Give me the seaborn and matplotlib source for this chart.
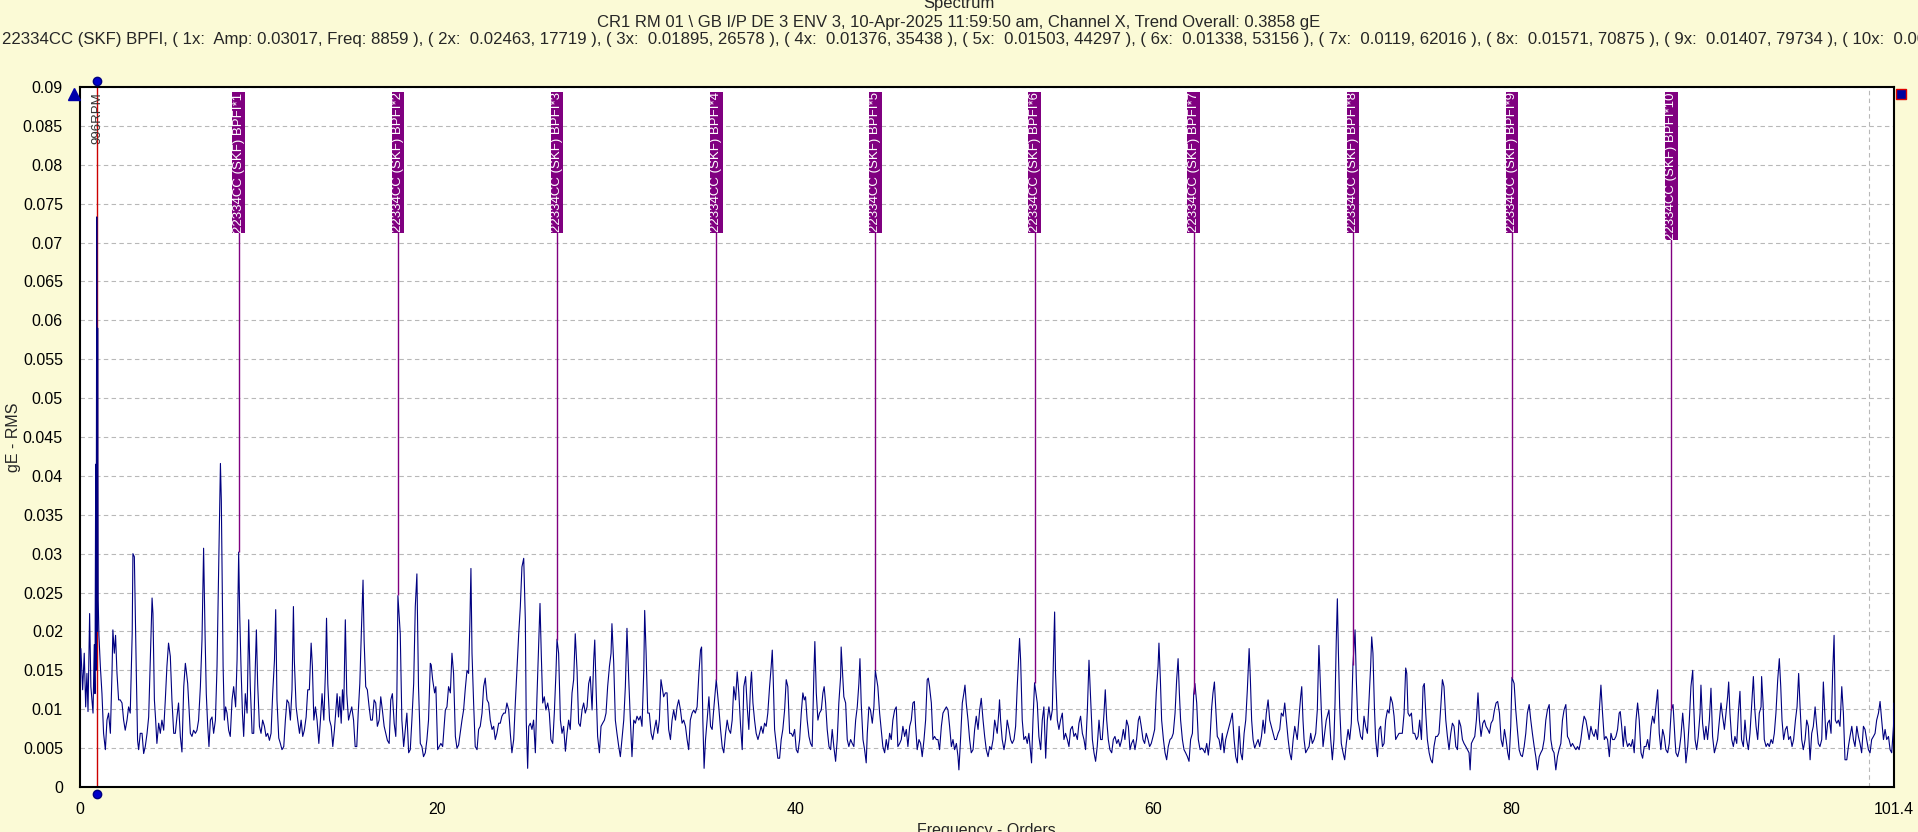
import numpy as np
import pandas as pd
import matplotlib
matplotlib.use("Agg")
from matplotlib import pyplot as plt
from matplotlib.ticker import FixedLocator, FuncFormatter
import seaborn as sns

# ---- data ----
rpm = 996
bpfi_name = "22334CC (SKF) BPFI"
bpfi_cpm = [8859, 17719, 26578, 35438, 44297, 53156, 62016, 70875, 79734, 88594]
bpfi_amp = [0.03017, 0.02463, 0.01895, 0.01376, 0.01503, 0.01338, 0.0119, 0.01571, 0.01407, 0.00986]
title_top = "Spectrum"
title_point = "CR1 RM 01 \\ GB I/P DE 3 ENV 3, 10-Apr-2025 11:59:50 am, Channel X, Trend Overall: 0.3858 gE"
x_tick_values = [0, 20, 40, 60, 80, 101.4]

orders_a = [
    0.00, 0.07, 0.17, 0.26, 0.34, 0.41, 0.47, 0.56, 0.63, 0.75,
    0.82, 0.86, 0.90, 0.92, 0.96, 0.98, 1.01, 1.04, 1.08, 1.16,
    1.25, 1.34, 1.44, 1.53, 1.62, 1.72, 1.81, 1.86, 1.94, 2.01,
    2.09, 2.18, 2.27, 2.37, 2.46, 2.55, 2.65, 2.74, 2.83, 2.94,
    2.98, 3.06, 3.17, 3.24, 3.30, 3.39, 3.49, 3.58, 3.67, 3.77,
    3.86, 3.95, 4.05, 4.10, 4.18, 4.25, 4.32, 4.42, 4.51, 4.60,
    4.70, 4.79, 4.88, 4.97, 5.07, 5.16, 5.26, 5.35, 5.44, 5.53,
    5.63, 5.72, 5.82, 5.91, 5.96, 6.04, 6.11, 6.19, 6.28, 6.37,
    6.47, 6.56, 6.65, 6.75, 6.84, 6.93, 7.01, 7.08, 7.16, 7.23,
    7.31, 7.40, 7.49, 7.59, 7.68, 7.77, 7.87, 7.92, 8.02, 8.09,
    8.16, 8.24, 8.33, 8.42, 8.52, 8.61, 8.72, 8.80, 8.89, 8.95,
    9.02, 9.10, 9.17, 9.26, 9.36, 9.45, 9.54, 9.64, 9.73, 9.82,
    9.88, 9.95, 10.05, 10.14, 10.23, 10.33, 10.42, 10.51, 10.61, 10.70,
    10.79, 10.89, 10.96, 11.03, 11.13, 11.22, 11.31, 11.41, 11.50, 11.59,
    11.69, 11.78, 11.87, 11.95, 12.00, 12.10, 12.19, 12.29, 12.38, 12.47,
    12.56, 12.66, 12.75, 12.84, 12.94, 13.01, 13.09, 13.18, 13.27, 13.37,
    13.46, 13.55, 13.65, 13.74, 13.80, 13.87, 13.97, 14.06, 14.15, 14.24,
    14.32, 14.39, 14.47, 14.54, 14.62, 14.69, 14.76, 14.85, 14.93, 15.03,
    15.12, 15.21, 15.31, 15.40, 15.49, 15.57, 15.66, 15.75, 15.84, 15.90,
    15.99, 16.08, 16.18, 16.27, 16.36, 16.46, 16.55, 16.64, 16.74, 16.83,
    16.92, 17.02, 17.11, 17.20, 17.30, 17.39, 17.48, 17.58, 17.67, 17.73,
]
amp_a = [
    .0120, .0178, .0125, .0172, .0103, .0146, .0097, .0223, .0129, .0095,
    .0183, .0120, .0415, .0150, .0733, .0200, .0590, .0240, .0195, .0155,
    .0120, .0069, .0048, .0086, .0095, .0069, .0146, .0202, .0172, .0195,
    .0146, .0112, .0112, .0108, .0086, .0073, .0086, .0103, .0095, .0198,
    .0300, .0296, .0146, .0060, .0048, .0069, .0069, .0043, .0052, .0069,
    .0090, .0163, .0243, .0223, .0112, .0086, .0056, .0082, .0069, .0086,
    .0073, .0112, .0155, .0185, .0168, .0112, .0069, .0069, .0090, .0108,
    .0065, .0045, .0129, .0159, .0150, .0133, .0103, .0069, .0065, .0073,
    .0069, .0073, .0086, .0129, .0189, .0307, .0198, .0120, .0078, .0052,
    .0086, .0090, .0069, .0086, .0155, .0275, .0416, .0369, .0155, .0086,
    .0103, .0095, .0073, .0065, .0112, .0129, .0103, .0163, .0302, .0219,
    .0155, .0095, .0065, .0120, .0095, .0215, .0129, .0069, .0069, .0155,
    .0202, .0133, .0078, .0069, .0086, .0078, .0065, .0069, .0060, .0069,
    .0120, .0163, .0228, .0112, .0063, .0056, .0048, .0052, .0086, .0112,
    .0108, .0086, .0125, .0232, .0163, .0103, .0086, .0069, .0086, .0065,
    .0073, .0090, .0125, .0125, .0185, .0155, .0086, .0103, .0086, .0056,
    .0086, .0120, .0086, .0150, .0217, .0133, .0086, .0078, .0052, .0073,
    .0099, .0120, .0090, .0116, .0082, .0125, .0099, .0215, .0120, .0086,
    .0095, .0103, .0086, .0052, .0052, .0095, .0133, .0202, .0266, .0189,
    .0129, .0125, .0103, .0086, .0086, .0112, .0108, .0078, .0086, .0116,
    .0099, .0078, .0069, .0060, .0056, .0112, .0120, .0082, .0065, .0116,
]

orders_b = [
    17.79, 17.92, 18.01, 18.11, 18.20, 18.29, 18.39, 18.48, 18.57, 18.67,
    18.76, 18.85, 18.94, 19.04, 19.13, 19.22, 19.32, 19.41, 19.50, 19.60,
    19.65, 19.73, 19.84, 19.91, 20.01, 20.10, 20.19, 20.29, 20.44, 20.53,
    20.62, 20.72, 20.81, 20.90, 21.00, 21.09, 21.18, 21.27, 21.37, 21.46,
    21.55, 21.65, 21.74, 21.81, 21.87, 21.93, 22.02, 22.11, 22.21, 22.30,
    22.39, 22.49, 22.58, 22.67, 22.77, 22.86, 22.95, 23.05, 23.14, 23.23,
    23.32, 23.42, 23.51, 23.60, 23.70, 23.79, 23.88, 23.98, 24.07, 24.16,
    24.26, 24.35, 24.44, 24.54, 24.63, 24.72, 24.82, 24.91, 24.96, 25.04,
    25.10, 25.19, 25.28, 25.37, 25.47, 25.56, 25.65, 25.73, 25.80, 25.88,
    25.97, 26.06, 26.16, 26.25, 26.34, 26.44, 26.53, 26.62, 26.68, 26.77,
    26.87, 26.96, 27.05, 27.15, 27.24, 27.33, 27.42, 27.52, 27.61, 27.70,
    27.80, 27.89, 27.98, 28.08, 28.17, 28.26, 28.36, 28.45, 28.54, 28.64,
    28.73, 28.79, 28.86, 28.95, 29.05, 29.14, 29.23, 29.33, 29.42, 29.51,
    29.61, 29.70, 29.75, 29.85, 29.94, 30.03, 30.13, 30.22, 30.31, 30.41,
    30.50, 30.59, 30.69, 30.78, 30.87, 30.97, 31.06, 31.15, 31.25, 31.34,
    31.43, 31.53, 31.58, 31.66, 31.75, 31.84, 31.94, 32.03, 32.12, 32.22,
    32.31, 32.40, 32.49, 32.55, 32.64, 32.74, 32.83, 32.92, 33.02, 33.11,
    33.20, 33.30, 33.39, 33.48, 33.58, 33.67, 33.76, 33.86, 33.95, 34.04,
    34.13, 34.23, 34.32, 34.41,
]
amp_b = [
    .0246, .0197, .0086, .0052, .0074, .0095, .0044, .0048, .0086, .0133,
    .0232, .0274, .0129, .0056, .0052, .0039, .0044, .0061, .0086, .0159,
    .0157, .0138, .0121, .0129, .0048, .0052, .0056, .0052, .0099, .0103,
    .0129, .0121, .0172, .0146, .0065, .0050, .0054, .0069, .0086, .0099,
    .0125, .0150, .0146, .0210, .0281, .0172, .0108, .0052, .0048, .0074,
    .0078, .0095, .0129, .0140, .0112, .0108, .0086, .0074, .0078, .0061,
    .0069, .0082, .0082, .0091, .0095, .0095, .0108, .0099, .0069, .0044,
    .0061, .0108, .0150, .0197, .0232, .0283, .0294, .0215, .0086, .0024,
    .0078, .0082, .0074, .0086, .0044, .0116, .0180, .0236, .0172, .0108,
    .0116, .0099, .0108, .0095, .0061, .0056, .0095, .0146, .0190, .0172,
    .0086, .0069, .0078, .0046, .0069, .0086, .0074, .0121, .0138, .0197,
    .0150, .0082, .0078, .0099, .0108, .0095, .0103, .0133, .0142, .0099,
    .0163, .0189, .0129, .0065, .0044, .0078, .0082, .0086, .0095, .0129,
    .0155, .0172, .0210, .0159, .0086, .0069, .0052, .0039, .0061, .0086,
    .0129, .0204, .0138, .0086, .0039, .0086, .0082, .0091, .0086, .0091,
    .0078, .0150, .0227, .0172, .0095, .0095, .0069, .0061, .0074, .0086,
    .0069, .0086, .0138, .0129, .0116, .0121, .0121, .0074, .0061, .0086,
    .0099, .0086, .0103, .0112, .0099, .0082, .0086, .0078, .0061, .0048,
    .0086, .0095, .0099, .0095,
]

orders_c = [
    34.51, 34.61, 34.70, 34.76, 34.83, 34.90, 34.98, 35.07, 35.17, 35.26,
    35.35, 35.45, 35.58, 35.72, 35.82, 35.91, 36.00, 36.10, 36.19, 36.28,
    36.38, 36.47, 36.56, 36.66, 36.75, 36.84, 36.94, 37.03, 37.12, 37.22,
    37.31, 37.40, 37.50, 37.55, 37.63, 37.72, 37.81, 37.91, 38.00, 38.09,
    38.19, 38.28, 38.37, 38.46, 38.56, 38.65, 38.71, 38.76, 38.84, 38.93,
    39.02, 39.12, 39.21, 39.30, 39.40, 39.49, 39.58, 39.68, 39.77, 39.86,
    39.96, 40.05, 40.14, 40.24, 40.33, 40.42, 40.50, 40.57, 40.66, 40.76,
    40.85, 40.94, 41.04, 41.09, 41.17, 41.26, 41.35, 41.45, 41.54, 41.61,
    41.69, 41.78, 41.88, 41.97, 42.06, 42.15, 42.25, 42.34, 42.43, 42.53,
    42.56, 42.64, 42.71, 42.81, 42.90, 42.99, 43.09, 43.18, 43.27, 43.37,
    43.46, 43.55, 43.61, 43.68, 43.78, 43.87, 43.96, 44.02, 44.11, 44.20,
    44.30, 44.39, 44.47, 44.61, 44.71, 44.80, 44.89, 44.99, 45.08, 45.17,
    45.27, 45.36, 45.45, 45.55, 45.64, 45.73, 45.83, 45.92, 46.01, 46.11,
    46.20, 46.29, 46.39, 46.48, 46.57, 46.65, 46.72, 46.81, 46.91, 47.00,
    47.09, 47.19, 47.28, 47.37, 47.43, 47.50, 47.60, 47.69, 47.78, 47.88,
    47.97, 48.06, 48.16, 48.25, 48.34, 48.44, 48.53, 48.62, 48.72, 48.81,
    48.90, 49.00, 49.09, 49.14, 49.24, 49.33, 49.42, 49.48, 49.55, 49.65,
    49.74, 49.83, 49.93, 50.02, 50.11, 50.21, 50.30, 50.39, 50.49, 50.58,
    50.67, 50.77, 50.86, 50.95, 51.05, 51.14,
]
amp_c = [
    .0103, .0146, .0176, .0180, .0086, .0024, .0061, .0086, .0116, .0078,
    .0074, .0103, .0138, .0103, .0074, .0052, .0044, .0069, .0086, .0074,
    .0069, .0086, .0129, .0112, .0148, .0121, .0078, .0048, .0129, .0142,
    .0103, .0074, .0133, .0148, .0108, .0086, .0069, .0061, .0069, .0078,
    .0069, .0082, .0078, .0095, .0129, .0155, .0176, .0142, .0074, .0056,
    .0037, .0037, .0061, .0074, .0099, .0138, .0129, .0069, .0069, .0065,
    .0074, .0048, .0044, .0061, .0095, .0121, .0112, .0116, .0086, .0065,
    .0056, .0052, .0150, .0187, .0121, .0086, .0095, .0099, .0121, .0129,
    .0108, .0074, .0052, .0048, .0074, .0052, .0033, .0061, .0108, .0142,
    .0180, .0146, .0116, .0108, .0061, .0052, .0061, .0056, .0052, .0086,
    .0103, .0133, .0165, .0108, .0061, .0048, .0031, .0069, .0103, .0099,
    .0082, .0103, .0150, .0129, .0095, .0074, .0052, .0044, .0061, .0048,
    .0069, .0061, .0086, .0099, .0103, .0052, .0056, .0061, .0078, .0065,
    .0074, .0052, .0078, .0086, .0108, .0110, .0078, .0048, .0061, .0056,
    .0039, .0061, .0086, .0138, .0140, .0129, .0108, .0061, .0065, .0061,
    .0061, .0048, .0078, .0095, .0099, .0103, .0099, .0078, .0052, .0061,
    .0048, .0056, .0039, .0022, .0065, .0108, .0121, .0131, .0108, .0086,
    .0061, .0044, .0048, .0074, .0091, .0074, .0099, .0114, .0086, .0065,
    .0048, .0039, .0052, .0048, .0061, .0086,
]

orders_d = [
    51.28, 51.38, 51.41, 51.47, 51.56, 51.66, 51.75, 51.84, 51.94, 52.03,
    52.12, 52.22, 52.31, 52.40, 52.49, 52.53, 52.59, 52.68, 52.77, 52.87,
    52.96, 53.05, 53.15, 53.20, 53.28, 53.37, 53.52, 53.61, 53.71, 53.80,
    53.89, 53.99, 54.08, 54.17, 54.27, 54.36, 54.43, 54.49, 54.54, 54.64,
    54.73, 54.82, 54.92, 55.01, 55.10, 55.20, 55.29, 55.38, 55.48, 55.57,
    55.66, 55.76, 55.85, 55.94, 56.04, 56.13, 56.22, 56.32, 56.41, 56.50,
    56.60, 56.69, 56.78, 56.87, 56.97, 57.06, 57.15, 57.25, 57.32, 57.40,
    57.49, 57.58, 57.68, 57.77, 57.86, 57.96, 58.05, 58.14, 58.24, 58.33,
    58.42, 58.51, 58.61, 58.70, 58.79, 58.89, 58.98, 59.07, 59.17, 59.24,
    59.33, 59.43, 59.52, 59.61, 59.71, 59.80, 59.89, 59.99, 60.08, 60.17,
    60.27, 60.32, 60.40, 60.47, 60.57, 60.66, 60.75, 60.84, 60.94, 61.03,
    61.12, 61.22, 61.31, 61.39, 61.46, 61.53, 61.63, 61.72, 61.81, 61.91,
    62.00, 62.09, 62.19, 62.26, 62.33, 62.43, 62.52, 62.62, 62.71, 62.80,
    62.89, 62.99, 63.08, 63.17, 63.27, 63.34, 63.42, 63.49, 63.58, 63.68,
    63.77, 63.86, 63.96, 64.05, 64.14, 64.24, 64.33, 64.42, 64.52, 64.61,
    64.70, 64.80, 64.89, 64.98, 65.08, 65.17, 65.26, 65.36, 65.43, 65.50,
    65.58, 65.67, 65.77, 65.86, 65.95, 66.05, 66.14, 66.23, 66.32, 66.42,
    66.51, 66.60, 66.70, 66.79, 66.88, 66.98, 67.07, 67.16, 67.26, 67.35,
    67.44, 67.54, 67.63, 67.72, 67.82, 67.91,
]
amp_d = [
    .0069, .0099, .0112, .0086, .0061, .0048, .0061, .0086, .0074, .0061,
    .0056, .0061, .0078, .0129, .0172, .0191, .0163, .0086, .0061, .0065,
    .0056, .0069, .0044, .0031, .0086, .0134, .0108, .0065, .0048, .0086,
    .0103, .0037, .0086, .0103, .0086, .0099, .0172, .0225, .0146, .0086,
    .0074, .0086, .0095, .0061, .0069, .0061, .0052, .0074, .0078, .0065,
    .0069, .0061, .0082, .0091, .0069, .0061, .0048, .0099, .0163, .0116,
    .0061, .0044, .0033, .0052, .0086, .0061, .0061, .0095, .0125, .0086,
    .0061, .0048, .0044, .0061, .0065, .0056, .0061, .0052, .0061, .0074,
    .0061, .0086, .0078, .0048, .0056, .0061, .0048, .0061, .0086, .0091,
    .0078, .0061, .0056, .0069, .0061, .0052, .0056, .0065, .0074, .0121,
    .0155, .0185, .0138, .0086, .0061, .0044, .0035, .0052, .0061, .0063,
    .0069, .0095, .0138, .0165, .0121, .0086, .0061, .0048, .0044, .0039,
    .0033, .0061, .0069, .0119, .0133, .0108, .0061, .0048, .0050, .0048,
    .0044, .0056, .0041, .0061, .0103, .0121, .0135, .0103, .0065, .0061,
    .0048, .0069, .0044, .0061, .0069, .0078, .0086, .0095, .0061, .0039,
    .0031, .0078, .0044, .0035, .0069, .0086, .0125, .0178, .0138, .0086,
    .0061, .0050, .0056, .0061, .0052, .0065, .0086, .0069, .0095, .0112,
    .0086, .0078, .0069, .0061, .0061, .0069, .0074, .0095, .0091, .0108,
    .0086, .0061, .0044, .0035, .0061, .0078,
]

orders_e = [
    68.05, 68.15, 68.24, 68.30, 68.37, 68.43, 68.52, 68.61, 68.71, 68.80,
    68.89, 68.99, 69.08, 69.17, 69.26, 69.32, 69.40, 69.49, 69.58, 69.67,
    69.77, 69.82, 69.92, 70.01, 70.10, 70.16, 70.23, 70.29, 70.35, 70.42,
    70.51, 70.61, 70.70, 70.79, 70.89, 70.98, 71.07, 71.16, 71.28, 71.35,
    71.43, 71.50, 71.59, 71.69, 71.78, 71.87, 71.97, 72.06, 72.15, 72.21,
    72.28, 72.36, 72.43, 72.53, 72.62, 72.71, 72.81, 72.90, 72.99, 73.09,
    73.18, 73.27, 73.37, 73.46, 73.55, 73.64, 73.74, 73.83, 73.92, 74.02,
    74.11, 74.17, 74.24, 74.33, 74.43, 74.52, 74.61, 74.71, 74.80, 74.89,
    74.99, 75.08, 75.15, 75.23, 75.32, 75.42, 75.51, 75.60, 75.69, 75.79,
    75.88, 75.97, 76.07, 76.16, 76.25, 76.35, 76.44, 76.53, 76.63, 76.72,
    76.81, 76.91, 77.00, 77.09, 77.19, 77.28, 77.37, 77.47, 77.56, 77.65,
    77.71, 77.78, 77.88, 77.97, 78.06, 78.15, 78.23, 78.32, 78.42, 78.51,
    78.60, 78.70, 78.79, 78.88, 78.98, 79.07, 79.16, 79.25, 79.35, 79.44,
    79.53, 79.63, 79.72, 79.81, 79.89, 79.98, 80.05, 80.17, 80.26, 80.35,
    80.45, 80.54, 80.63, 80.73, 80.82, 80.91, 81.01, 81.10, 81.19, 81.29,
    81.38, 81.47, 81.57, 81.66, 81.75, 81.85, 81.94, 82.03, 82.13, 82.22,
    82.31, 82.40, 82.50, 82.59, 82.68, 82.78, 82.87, 82.96, 83.06, 83.15,
    83.24, 83.34, 83.43, 83.52, 83.62, 83.71, 83.80, 83.90, 83.99, 84.08,
    84.18, 84.27, 84.36, 84.46, 84.55, 84.64, 84.73,
]
amp_e = [
    .0061, .0091, .0116, .0129, .0086, .0061, .0044, .0048, .0052, .0069,
    .0056, .0061, .0069, .0099, .0182, .0146, .0095, .0052, .0069, .0086,
    .0095, .0099, .0061, .0035, .0061, .0108, .0189, .0242, .0172, .0103,
    .0056, .0044, .0035, .0056, .0074, .0061, .0082, .0157, .0202, .0138,
    .0086, .0078, .0065, .0061, .0091, .0078, .0069, .0112, .0155, .0193,
    .0172, .0103, .0061, .0039, .0074, .0078, .0052, .0056, .0086, .0099,
    .0095, .0116, .0108, .0091, .0061, .0065, .0069, .0069, .0069, .0095,
    .0153, .0146, .0095, .0091, .0095, .0069, .0069, .0061, .0065, .0086,
    .0061, .0129, .0133, .0095, .0061, .0044, .0035, .0031, .0052, .0065,
    .0065, .0069, .0103, .0138, .0129, .0086, .0065, .0048, .0069, .0082,
    .0078, .0052, .0048, .0086, .0078, .0061, .0056, .0052, .0048, .0044,
    .0022, .0056, .0061, .0065, .0086, .0121, .0086, .0065, .0082, .0086,
    .0078, .0074, .0069, .0082, .0086, .0099, .0108, .0110, .0095, .0061,
    .0052, .0074, .0061, .0044, .0035, .0078, .0141, .0133, .0099, .0074,
    .0048, .0041, .0039, .0052, .0069, .0095, .0106, .0086, .0069, .0052,
    .0039, .0022, .0039, .0044, .0048, .0061, .0086, .0099, .0106, .0061,
    .0048, .0044, .0022, .0039, .0048, .0056, .0086, .0099, .0106, .0065,
    .0061, .0052, .0056, .0052, .0048, .0052, .0048, .0061, .0078, .0091,
    .0086, .0074, .0061, .0078, .0069, .0065, .0074,
]

orders_f = [
    84.83, 84.93, 85.02, 85.11, 85.21, 85.30, 85.39, 85.49, 85.58, 85.67,
    85.77, 85.86, 85.95, 86.04, 86.10, 86.18, 86.27, 86.36, 86.42, 86.51,
    86.60, 86.70, 86.79, 86.88, 86.98, 87.07, 87.16, 87.26, 87.35, 87.44,
    87.54, 87.63, 87.72, 87.82, 87.91, 88.00, 88.09, 88.19, 88.28, 88.37,
    88.47, 88.56, 88.65, 88.75, 88.84, 88.95, 89.05, 89.16, 89.21, 89.31,
    89.40, 89.49, 89.59, 89.68, 89.77, 89.87, 89.96, 90.05, 90.15, 90.20,
    90.28, 90.37, 90.46, 90.56, 90.61, 90.70, 90.80, 90.89, 90.98, 91.08,
    91.17, 91.26, 91.36, 91.45, 91.54, 91.64, 91.73, 91.82, 91.92, 92.01,
    92.10, 92.16, 92.23, 92.33, 92.42, 92.51, 92.61, 92.70, 92.79, 92.88,
    92.98, 93.07, 93.16, 93.26, 93.35, 93.44, 93.54, 93.61, 93.69, 93.78,
    93.87, 93.97, 94.00, 94.08, 94.15, 94.25, 94.34, 94.43, 94.53, 94.62,
    94.71, 94.80, 94.90, 94.99, 95.07, 95.14, 95.23, 95.33, 95.42, 95.51,
    95.61, 95.70, 95.79, 95.89, 95.98, 96.07, 96.15, 96.24, 96.33, 96.43,
    96.52, 96.61, 96.71, 96.80, 96.89, 96.99, 97.08, 97.17, 97.26, 97.36,
    97.45, 97.53, 97.60, 97.69, 97.79, 97.88, 97.97, 98.05, 98.12, 98.20,
    98.29, 98.38, 98.48, 98.57, 98.66, 98.76, 98.85, 98.94, 99.04, 99.13,
    99.22, 99.32, 99.41, 99.50, 99.59, 99.69, 99.78, 99.87, 99.97, 100.06,
    100.15, 100.25, 100.34, 100.43, 100.53, 100.62, 100.71, 100.81, 100.90, 100.99,
    101.09, 101.18, 101.27, 101.37, 101.40,
]
amp_f = [
    .0061, .0099, .0131, .0095, .0061, .0065, .0061, .0039, .0069, .0061,
    .0061, .0065, .0074, .0095, .0097, .0078, .0052, .0078, .0061, .0052,
    .0056, .0052, .0061, .0044, .0086, .0108, .0086, .0044, .0037, .0052,
    .0052, .0061, .0048, .0078, .0091, .0082, .0103, .0125, .0069, .0048,
    .0074, .0065, .0048, .0044, .0056, .0099, .0106, .0061, .0044, .0039,
    .0048, .0065, .0095, .0069, .0031, .0052, .0086, .0129, .0150, .0108,
    .0061, .0048, .0065, .0095, .0131, .0082, .0061, .0078, .0061, .0086,
    .0127, .0065, .0044, .0052, .0061, .0086, .0108, .0091, .0074, .0095,
    .0116, .0135, .0095, .0061, .0052, .0065, .0056, .0095, .0123, .0061,
    .0052, .0086, .0061, .0048, .0069, .0103, .0142, .0103, .0078, .0061,
    .0095, .0103, .0142, .0108, .0061, .0052, .0056, .0052, .0061, .0056,
    .0069, .0095, .0138, .0165, .0129, .0086, .0061, .0074, .0078, .0061,
    .0065, .0052, .0061, .0086, .0103, .0146, .0103, .0061, .0048, .0061,
    .0086, .0078, .0035, .0069, .0078, .0103, .0078, .0056, .0052, .0061,
    .0135, .0095, .0061, .0082, .0086, .0069, .0146, .0195, .0086, .0082,
    .0086, .0078, .0129, .0095, .0035, .0035, .0052, .0065, .0078, .0061,
    .0052, .0078, .0065, .0056, .0044, .0078, .0074, .0061, .0048, .0044,
    .0061, .0065, .0069, .0086, .0095, .0110, .0086, .0061, .0074, .0061,
    .0065, .0048, .0044, .0078, .0108,
]

# ---- assemble ----
orders = orders_a + orders_b + orders_c + orders_d + orders_e + orders_f
amps = amp_a + amp_b + amp_c + amp_d + amp_e + amp_f
assert len(orders) == len(amps), (len(orders), len(amps))
df = pd.DataFrame({"order": orders, "amp": amps})

parts = ["( 1x:  Amp: %s, Freq: %d )" % (bpfi_amp[0], bpfi_cpm[0])]
for k in range(1, len(bpfi_cpm)):
    parts.append("( %dx:  %s, %d )" % (k + 1, bpfi_amp[k], bpfi_cpm[k]))
title_bpfi = bpfi_name + ", " + ", ".join(parts)

# ---- style ----
sns.set_style("white")
plt.rcParams["font.family"] = ["Liberation Sans", "DejaVu Sans"]
bg = "#FBFAD6"
navy = "#000080"
purple = "#800080"

fig = plt.figure(figsize=(19.18, 8.32), dpi=100, facecolor=bg)
ax = fig.add_axes([0.0415, 0.0541, 0.946, 0.8413])
ax.set_facecolor("white")

sns.lineplot(data=df, x="order", y="amp", ax=ax, color=navy, lw=0.8,
             estimator=None, sort=False, zorder=3)

ax.set_xlim(0, 101.4)
ax.set_ylim(0, 0.09)

# RPM cursor
ax.axvline(1.0, color="#CC0000", lw=1, zorder=2)
ax.text(1.0, 0.0893, "%dRPM" % rpm, rotation=90, ha="center", va="top",
        color="#333333", fontsize=9.5, zorder=5)
xt = ax.get_xaxis_transform()
ax.plot([1.0, 1.0], [1.009, -0.01], "o", ms=6, color="#0000CC",
        mec="#000080", transform=xt, clip_on=False, zorder=6)
ax.plot([-0.0033], [0.9907], "^", ms=8, color="#0000AA",
        transform=ax.transAxes, clip_on=False, zorder=6)
ax.plot([1.0039], [0.9907], "s", ms=6.5, color="#0000A0", mec="#DD0000",
        mew=1, transform=ax.transAxes, clip_on=False, zorder=6)

# BPFI harmonic cursors
for k, (cpm, a) in enumerate(zip(bpfi_cpm, bpfi_amp), start=1):
    o = cpm / rpm
    ax.vlines(o, a, 0.085, color=purple, lw=1, zorder=4)
    ax.text(o, 0.0893, "%s*%d" % (bpfi_name, k), rotation=90, ha="center",
            va="top", color="white", fontsize=9.5, zorder=5,
            bbox=dict(boxstyle="square,pad=0.02", fc=purple, ec="none"))

# axes cosmetics
ax.xaxis.set_major_locator(FixedLocator(x_tick_values))
ax.xaxis.set_minor_locator(FixedLocator([20, 40, 60, 80, 100]))
ax.xaxis.set_major_formatter(FuncFormatter(lambda v, p: "%g" % v))
ax.yaxis.set_major_locator(FixedLocator(np.arange(0, 0.0901, 0.005)))
ax.yaxis.set_major_formatter(FuncFormatter(lambda v, p: "%g" % round(v, 3)))
ax.tick_params(axis="both", which="both", length=0, labelsize=11.5, colors="black")
ax.tick_params(axis="y", pad=12)
ax.tick_params(axis="x", pad=11)
ax.grid(False)
ax.grid(axis="y", which="major", color="#B8B8B8", ls=(0, (4, 3)), lw=0.8)
ax.grid(axis="x", which="minor", color="#B8B8B8", ls=(0, (4, 3)), lw=0.8)
for s in ax.spines.values():
    s.set_color("black")
    s.set_linewidth(1.5)

ax.set_ylabel("gE - RMS", fontsize=11.5, labelpad=1)
ax.set_xlabel("Frequency - Orders", fontsize=11.5)
ax.xaxis.set_label_coords(0.5, -0.052)

fig.text(0.5, 1 - 8 / 832, title_top, ha="center", va="baseline", fontsize=12)
fig.text(0.5, 1 - 27 / 832, title_point, ha="center", va="baseline", fontsize=12)
fig.text(0.001, 1 - 44 / 832, title_bpfi, ha="left", va="baseline", fontsize=12.1)

fig.savefig("out.png", dpi=100, facecolor=bg)
